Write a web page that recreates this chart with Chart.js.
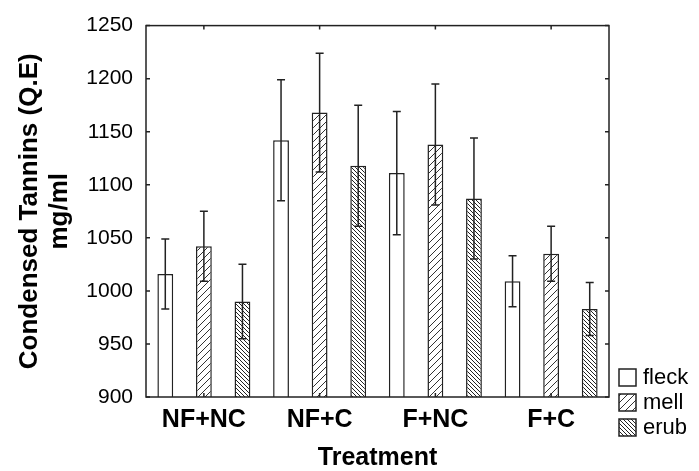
<!DOCTYPE html>
<html>
<head>
<meta charset="utf-8">
<script src="https://cdn.jsdelivr.net/npm/chart.js@4/dist/chart.umd.min.js"></script>
<style>
  html, body { margin: 0; padding: 0; background: #fff; }
  #wrap { width: 699px; height: 471px; }
</style>
</head>
<body>
<div id="wrap"><canvas id="chart" width="699" height="471"></canvas></div>
<script>
// data
const categories = ['NF+NC', 'NF+C', 'F+NC', 'F+C'];
const seriesNames = ['fleck', 'mell', 'erub'];
const fleck = [1016, 1142, 1111, 1009];
const fleckErr = [33, 57, 58, 24];
const mell = [1042, 1168, 1138, 1035];
const mellErr = [33, 56, 57, 26];
const erub = [990, 1118, 1087, 983];
const erubErr = [35, 57, 57, 25];
const yTicks = [900, 950, 1000, 1050, 1100, 1150, 1200, 1250];

const FONT = "'Liberation Sans', Arial, sans-serif";
const INK = '#222';

// hatch fill: dir 1 = "/", dir -1 = "\"
function makeHatch(size, dir, color) {
    const c = document.createElement('canvas');
    c.width = size;
    c.height = size;
    const g = c.getContext('2d');
    g.fillStyle = '#fff';
    g.fillRect(0, 0, size, size);
    g.strokeStyle = color;
    g.lineWidth = 1;
    g.beginPath();
    for (let k = -1; k <= 1; k++) {
        if (dir > 0) {
            g.moveTo(k * size, size);
            g.lineTo(k * size + size, 0);
        } else {
            g.moveTo(k * size, 0);
            g.lineTo(k * size + size, size);
        }
    }
    g.stroke();
    return g.createPattern(c, 'repeat');
}

const fills = ['#fff', makeHatch(7, 1, '#333'), makeHatch(4, -1, '#222')];
const errors = [fleckErr, mellErr, erubErr];

// error bars, drawn through the y scale
const errorBars = {
    id: 'errorBars',
    afterDatasetsDraw(chart) {
        const ctx = chart.ctx;
        const y = chart.scales.y;
        ctx.save();
        ctx.strokeStyle = INK;
        ctx.lineWidth = 1.5;
        chart.data.datasets.forEach((ds, i) => {
            const meta = chart.getDatasetMeta(i);
            meta.data.forEach((bar, j) => {
                const v = ds.data[j];
                const e = errors[i][j];
                const top = y.getPixelForValue(v + e);
                const bot = y.getPixelForValue(v - e);
                const x = bar.x;
                ctx.beginPath();
                ctx.moveTo(x, top);
                ctx.lineTo(x, bot);
                ctx.moveTo(x - 4, top);
                ctx.lineTo(x + 4, top);
                ctx.moveTo(x - 4, bot);
                ctx.lineTo(x + 4, bot);
                ctx.stroke();
            });
        });
        ctx.restore();
    }
};

// plot frame with inward ticks on all four sides
const frame = {
    id: 'frame',
    afterDraw(chart) {
        const ctx = chart.ctx;
        const a = chart.chartArea;
        const y = chart.scales.y;
        const x = chart.scales.x;
        ctx.save();
        ctx.strokeStyle = INK;
        ctx.lineWidth = 1.5;
        ctx.strokeRect(a.left, a.top, a.right - a.left, a.bottom - a.top);
        ctx.beginPath();
        y.ticks.forEach((t, i) => {
            const py = y.getPixelForTick(i);
            ctx.moveTo(a.left, py);
            ctx.lineTo(a.left + 4, py);
            ctx.moveTo(a.right, py);
            ctx.lineTo(a.right - 4, py);
        });
        x.ticks.forEach((t, i) => {
            const px = x.getPixelForTick(i);
            ctx.moveTo(px, a.top);
            ctx.lineTo(px, a.top + 4);
            ctx.moveTo(px, a.bottom);
            ctx.lineTo(px, a.bottom - 4);
        });
        ctx.stroke();
        ctx.restore();
    }
};

// legend sits below-right of the plot, outside the frame
const sideLegend = {
    id: 'sideLegend',
    afterDraw(chart) {
        const ctx = chart.ctx;
        const a = chart.chartArea;
        const bx = a.right + 10;
        const by = a.bottom - 28;
        ctx.save();
        ctx.font = '22px ' + FONT;
        ctx.textBaseline = 'middle';
        ctx.fillStyle = '#000';
        chart.data.datasets.forEach((ds, i) => {
            const top = by + i * 25;
            ctx.fillStyle = ds.backgroundColor;
            ctx.fillRect(bx, top, 17, 17);
            ctx.strokeStyle = INK;
            ctx.lineWidth = 1.5;
            ctx.strokeRect(bx, top, 17, 17);
            ctx.fillStyle = '#000';
            ctx.fillText(ds.label, bx + 24, top + 9);
        });
        ctx.restore();
    }
};

const seriesValues = [fleck, mell, erub];

new Chart(document.getElementById('chart'), {
    type: 'bar',
    data: {
        labels: categories,
        datasets: seriesNames.map((name, i) => ({
            label: name,
            data: seriesValues[i],
            backgroundColor: fills[i],
            borderColor: INK,
            borderWidth: 1.5,
            categoryPercentage: 1.0,
            barPercentage: 0.41
        }))
    },
    options: {
        responsive: false,
        animation: false,
        layout: { padding: { top: 24, right: 90, bottom: 0, left: 0 } },
        plugins: {
            legend: { display: false },
            tooltip: { enabled: false }
        },
        scales: {
            x: {
                grid: { display: false, drawTicks: false },
                border: { display: false },
                ticks: {
                    color: '#000',
                    padding: 8,
                    font: { family: FONT, size: 25, weight: 'bold' }
                },
                title: {
                    display: true,
                    text: 'Treatment',
                    color: '#000',
                    padding: 0,
                    font: { family: FONT, size: 25, weight: 'bold', lineHeight: 1 }
                },
                afterFit(scale) { scale.height = 74; }
            },
            y: {
                min: 900,
                max: 1250,
                grid: { display: false, drawTicks: false },
                border: { display: false },
                afterBuildTicks(scale) {
                    scale.ticks = yTicks.map(v => ({ value: v }));
                },
                ticks: {
                    color: '#000',
                    padding: 13,
                    font: { family: FONT, size: 21 },
                    callback: v => String(v)
                },
                title: {
                    display: true,
                    text: ['Condensed Tannins (Q.E)', 'mg/ml'],
                    color: '#000',
                    padding: { top: 15, bottom: 0 },
                    font: { family: FONT, size: 26, weight: 'bold', lineHeight: 1.15 }
                },
                afterFit(scale) { scale.width = 146; }
            }
        }
    },
    plugins: [errorBars, frame, sideLegend]
});
</script>
</body>
</html>
